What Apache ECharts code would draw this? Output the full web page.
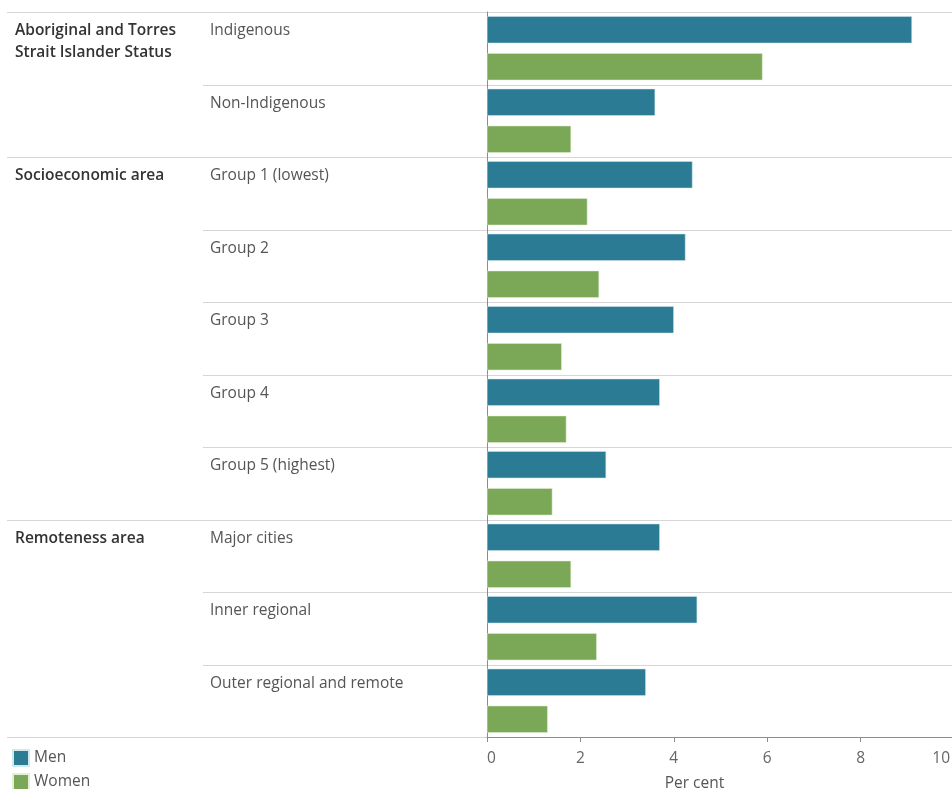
<!DOCTYPE html>
<html>
<head>
<meta charset="utf-8">
<script src="https://cdn.jsdelivr.net/npm/echarts@6/dist/echarts.min.js"></script>
<style>
html,body{margin:0;padding:0;background:#fff;}
#main{width:952px;height:789px;}
</style>
</head>
<body>
<div id="main"></div>
<script>
// ---- data ----
const categories = ['Indigenous', 'Non-Indigenous', 'Group 1 (lowest)', 'Group 2', 'Group 3', 'Group 4', 'Group 5 (highest)', 'Major cities', 'Inner regional', 'Outer regional and remote'];
const groupNames = ['Aboriginal and Torres\nStrait Islander Status', 'Socioeconomic area', 'Remoteness area'];
const groupSizes = [2, 5, 3];
const men = [9.1, 3.6, 4.4, 4.25, 4.0, 3.7, 2.55, 3.7, 4.5, 3.4];
const women = [5.9, 1.8, 2.15, 2.4, 1.6, 1.7, 1.4, 1.8, 2.35, 1.3];
const xTicks = [0, 2, 4, 6, 8, 10];

// group start indices
const groupStart = {};
let acc = 0;
groupSizes.forEach((s, gi) => { groupStart[acc] = gi; acc += s; });

const FONT = '"Open Sans", "Noto Sans", sans-serif';
const FS = 15.5;
const chart = echarts.init(document.getElementById('main'));

function renderRow(params, api) {
  const i = api.value(1);
  const c = api.coord([0, i]);
  const band = api.size([0, 1])[1];
  const top = c[1] - band / 2;
  const bottom = c[1] + band / 2;
  const isGroupStart = groupStart.hasOwnProperty(i);
  const children = [];
  children.push({
    type: 'line',
    shape: { x1: isGroupStart ? 7 : 203, y1: Math.round(top) + 0.5, x2: 960, y2: Math.round(top) + 0.5 },
    style: { stroke: '#d6d6d6', lineWidth: 1 }
  });
  if (i === categories.length - 1) {
    children.push({
      type: 'line',
      shape: { x1: 7, y1: Math.round(bottom) + 0.5, x2: 487, y2: Math.round(bottom) + 0.5 },
      style: { stroke: '#d6d6d6', lineWidth: 1 }
    });
  }
  children.push({
    type: 'text',
    style: {
      text: categories[i], x: 210, y: top + 8,
      fill: '#555', fontSize: FS, fontFamily: FONT, lineHeight: 22,
      align: 'left', verticalAlign: 'top'
    }
  });
  if (isGroupStart) {
    children.push({
      type: 'text',
      style: {
        text: groupNames[groupStart[i]], x: 15, y: top + 8,
        fill: '#333', fontSize: FS, fontWeight: 600, fontFamily: FONT, lineHeight: 22,
        align: 'left', verticalAlign: 'top'
      }
    });
  }
  return { type: 'group', children };
}

const tickMax = xTicks[xTicks.length - 1];
const option = {
  animation: false,
  backgroundColor: '#fff',
  textStyle: { fontFamily: FONT },
  grid: { left: 487, top: 12, width: 467, bottom: 52, containLabel: false, outerBoundsMode: 'none' },
  legend: {
    data: ['Men', 'Women'],
    orient: 'vertical',
    left: 12, top: 749, height: 60,
    padding: 0,
    itemWidth: 16, itemHeight: 16, itemGap: 6,
    icon: 'rect',
    textStyle: { color: '#555', fontSize: FS, fontFamily: FONT }
  },
  xAxis: {
    type: 'value', min: xTicks[0], max: tickMax, interval: 2,
    axisLine: { show: true, lineStyle: { color: '#8c8c8c', width: 1 } },
    axisTick: { show: true, length: 5, lineStyle: { color: '#8c8c8c' } },
    splitLine: { show: false },
    axisLabel: {
      color: '#666', fontSize: FS, margin: 14, fontFamily: FONT,
      alignMinLabel: 'left', alignMaxLabel: 'right',
      formatter: v => (v === tickMax ? '{r|' + v + '}' : '{n|' + v + '}'),
      rich: {
        n: { color: '#666', fontSize: FS, fontFamily: FONT },
        r: { color: '#666', fontSize: FS, fontFamily: FONT, padding: [0, 4, 0, 0] }
      }
    },
    name: 'Per cent', nameLocation: 'middle', nameGap: 39,
    nameTextStyle: { color: '#555', fontSize: FS, fontFamily: FONT, padding: [0, 52, 0, 0] }
  },
  yAxis: {
    type: 'category', inverse: true, data: categories,
    axisLine: { show: true, lineStyle: { color: '#8c8c8c', width: 1 } },
    axisTick: { show: false },
    axisLabel: { show: false },
    splitLine: { show: false }
  },
  series: [
    {
      type: 'custom', name: 'rows', coordinateSystem: 'cartesian2d',
      data: categories.map((c, i) => [0, i]),
      encode: { x: 0, y: 1 },
      renderItem: renderRow, clip: false, silent: true, z: 0
    },
    {
      name: 'Men', type: 'bar', data: men, barWidth: 27, barGap: '37%',
      itemStyle: { color: '#2b7b95', borderColor: '#cfe9ef', borderWidth: 0.5 }, z: 3
    },
    {
      name: 'Women', type: 'bar', data: women, barWidth: 27, barGap: '37%',
      itemStyle: { color: '#7ba857', borderColor: '#e3f0d8', borderWidth: 0.5 }, z: 3
    }
  ]
};
chart.setOption(option);
</script>
</body>
</html>
